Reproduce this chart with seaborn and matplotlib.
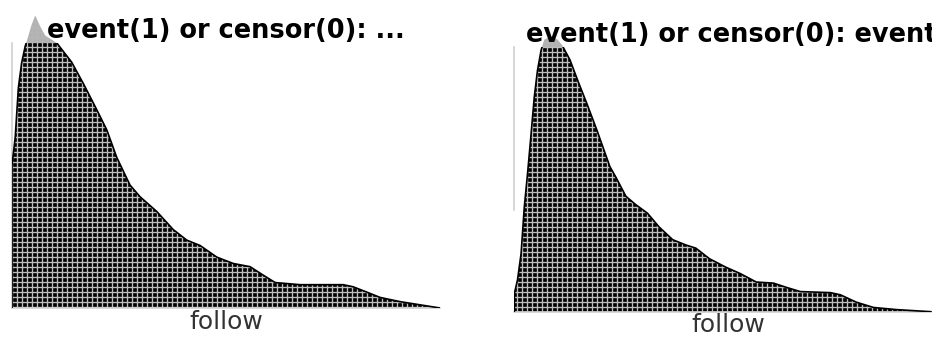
import matplotlib
matplotlib.use("Agg")
import matplotlib.pyplot as plt
import seaborn as sns
import pandas as pd

# ---- data ----
follow_left = [0.00, 0.00, 0.08, 0.16, 0.24, 0.33, 0.38, 0.48, 0.58, 0.70, 0.83, 1.00, 1.12,
               1.49, 1.78, 2.12, 2.37, 2.62, 2.95, 3.20, 3.62, 4.03, 4.37, 4.70, 5.12, 5.53,
               5.95, 6.28, 6.58, 7.20, 8.28, 8.53, 8.87, 9.20, 9.70, 10.20, 10.70]
density_left = [0.000, 0.135, 0.161, 0.208, 0.231, 0.247, 0.253, 0.266, 0.276, 0.266, 0.257, 0.253, 0.250,
                0.232, 0.212, 0.187, 0.168, 0.142, 0.116, 0.105, 0.091, 0.074, 0.064, 0.059, 0.048, 0.042,
                0.039, 0.031, 0.024, 0.022, 0.022, 0.020, 0.015, 0.010, 0.006, 0.003, 0.000]

follow_right = [0.00, 0.00, 0.08, 0.17, 0.25, 0.33, 0.42, 0.50, 0.58, 0.67, 0.75, 0.92, 1.08, 1.19,
                1.39, 1.60, 1.81, 2.06, 2.39, 2.54, 2.79, 3.04, 3.33, 3.62, 3.96, 4.29, 4.54, 4.88,
                5.29, 5.65, 6.05, 6.48, 6.80, 7.15, 7.90, 8.15, 8.55, 8.98, 9.55, 9.98, 10.42]
density_right = [0.000, 0.017, 0.030, 0.055, 0.099, 0.130, 0.168, 0.203, 0.228, 0.247, 0.257, 0.260, 0.257, 0.252,
                 0.238, 0.217, 0.197, 0.172, 0.137, 0.127, 0.109, 0.101, 0.093, 0.080, 0.068, 0.063, 0.060, 0.050,
                 0.042, 0.036, 0.028, 0.027, 0.023, 0.019, 0.018, 0.016, 0.009, 0.004, 0.002, 0.001, 0.000]

titles = ["event(1) or censor(0): ...", "event(1) or censor(0): event"]
x_label = "follow"

# ---- style ----
sns.set_theme(style="white")
plt.rcParams["font.family"] = ["DejaVu Sans"]
plt.rcParams["hatch.color"] = "#bdbdbd"
plt.rcParams["hatch.linewidth"] = 0.8

DPI = 120
fig = plt.figure(figsize=(932 / DPI, 339 / DPI), dpi=DPI)
positions = [
    [12 / 932, 31 / 339, 428 / 932, 265 / 339],
    [514.3 / 932, 27.3 / 339, 428 / 932, 264.7 / 339],
]
spine_low = [0.0, 0.096]
title_x = [0.5, 0.507]

datasets = [
    pd.DataFrame({"follow": follow_left, "density": density_left}),
    pd.DataFrame({"follow": follow_right, "density": density_right}),
]

for i, df in enumerate(datasets):
    ax = fig.add_axes(positions[i])
    # faded, unclipped copy (visible where the curve rises above the frame)
    ghost = ax.fill_between(df["follow"], df["density"], facecolor="black",
                            edgecolor="#bdbdbd", hatch="++++", linewidth=0,
                            alpha=0.3, zorder=1)
    ghost.set_clip_on(False)
    ax.fill_between(df["follow"], df["density"], facecolor="black",
                    edgecolor="#bdbdbd", hatch="++++", linewidth=0, zorder=2)
    sns.lineplot(data=df, x="follow", y="density", ax=ax, color="black",
                 linewidth=1.0, sort=False, estimator=None, zorder=3)
    ax.set_xlim(0, 10.7)
    ax.set_ylim(0, 0.25)
    ax.set_xticks([])
    ax.set_yticks([])
    ax.set_ylabel("")
    ax.set_xlabel(x_label, fontsize=15, color="#333333", labelpad=1)
    t = ax.set_title(titles[i], fontsize=15.4, fontweight="bold", color="black", pad=3)
    t.set_x(title_x[i])
    for s in ["top", "right"]:
        ax.spines[s].set_visible(False)
    for s in ["left", "bottom"]:
        ax.spines[s].set_color("#d0d0d0")
        ax.spines[s].set_linewidth(1.0)
    ax.spines["left"].set_bounds(spine_low[i], 0.25)

fig.savefig("out.png", dpi=DPI)
